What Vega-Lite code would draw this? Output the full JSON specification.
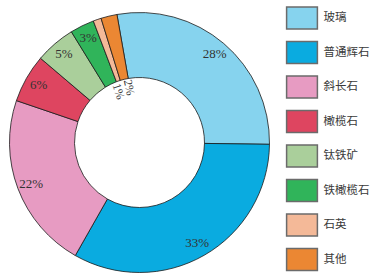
{
  "$schema": "https://vega.github.io/schema/vega-lite/v6.json",
  "width": 279,
  "height": 277,
  "padding": {"left": 0, "top": 4, "right": 0, "bottom": 0},
  "background": "white",
  "config": {"view": {"stroke": null}},
  "data": {"values": [
    {"mineral": "玻璃", "pct": 28, "ord": 1, "label": "28%"},
    {"mineral": "普通辉石", "pct": 33, "ord": 2, "label": "33%"},
    {"mineral": "斜长石", "pct": 22, "ord": 3, "label": "22%"},
    {"mineral": "橄榄石", "pct": 6, "ord": 4, "label": "6%"},
    {"mineral": "钛铁矿", "pct": 5, "ord": 5, "label": "5%"},
    {"mineral": "铁橄榄石", "pct": 3, "ord": 6, "label": "3%"},
    {"mineral": "石英", "pct": 1, "ord": 7, "label": "1%"},
    {"mineral": "其他", "pct": 2, "ord": 8, "label": "2%"}
  ]},
  "encoding": {
    "theta": {"field": "pct", "type": "quantitative", "stack": true, "scale": {"range": [-0.1745, 6.1087]}},
    "order": {"field": "ord", "type": "quantitative"}
  },
  "layer": [
    {
      "mark": {"type": "arc", "outerRadius": 130, "innerRadius": 65, "stroke": "#1a1a1a", "strokeWidth": 0.8},
      "encoding": {
        "color": {
          "field": "mineral", "type": "nominal",
          "scale": {
            "domain": ["玻璃", "普通辉石", "斜长石", "橄榄石", "钛铁矿", "铁橄榄石", "石英", "其他"],
            "range": ["#86d3ee", "#0aabe0", "#e79bc2", "#de4560", "#aacf9b", "#30b45a", "#f4b998", "#eb8733"]
          },
          "legend": {
            "title": null,
            "orient": "none",
            "legendX": 290,
            "legendY": 2,
            "symbolType": "M-1.4,-1L1.4,-1L1.4,1L-1.4,1Z",
            "symbolSize": 484,
            "symbolStrokeColor": "#6b6b6b",
            "symbolStrokeWidth": 1.5,
            "symbolOpacity": 1,
            "labelFont": "Noto Sans CJK SC",
            "labelFontSize": 11.5,
            "labelColor": "#3a3a3a",
            "labelOffset": 9.5,
            "rowPadding": 6.5
          }
        }
      }
    },
    {
      "mark": {"type": "text", "radius": 116, "font": "Liberation Serif", "fontSize": 13, "color": "#333333"},
      "encoding": {
        "text": {"condition": {"test": "datum.pct >= 3", "field": "label"}, "value": ""}
      }
    },
    {
      "mark": {"type": "text", "radius": 56, "angle": 78, "dy": -3, "font": "Liberation Serif", "fontSize": 12, "color": "#333333"},
      "encoding": {
        "text": {"condition": {"test": "datum.ord == 8", "field": "label"}, "value": ""}
      }
    },
    {
      "mark": {"type": "text", "radius": 55, "angle": 72, "dy": 3, "font": "Liberation Serif", "fontSize": 12, "color": "#333333"},
      "encoding": {
        "text": {"condition": {"test": "datum.ord == 7", "field": "label"}, "value": ""}
      }
    }
  ]
}
